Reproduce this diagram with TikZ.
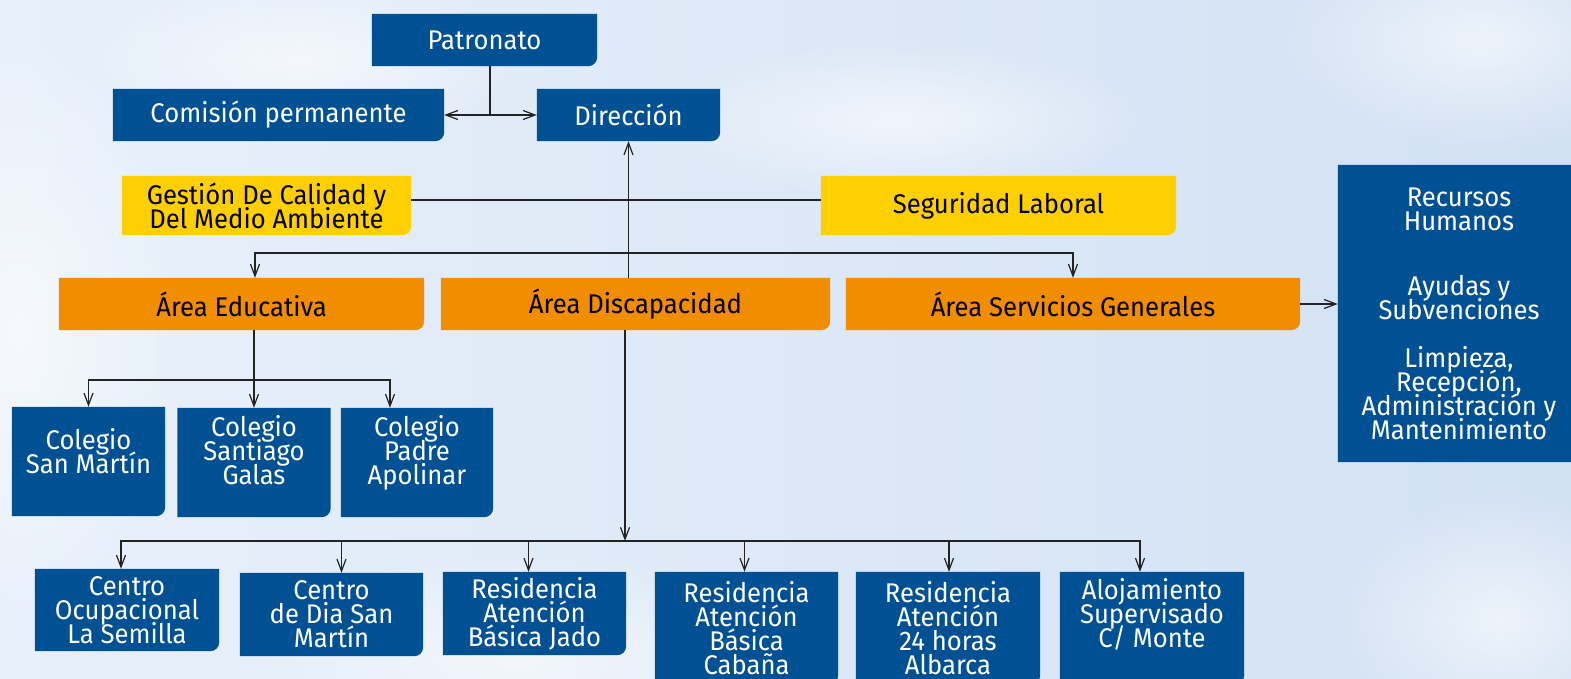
\documentclass[tikz,border=0pt]{standalone}
\usepackage{fontspec}
\setmainfont{Fira Sans}[FakeStretch=0.95]
\usetikzlibrary{arrows.meta,backgrounds,calc,fadings}

\definecolor{unitblue}{RGB}{0,81,148}
\definecolor{qualityyellow}{RGB}{255,207,0}
\definecolor{areaorange}{RGB}{240,141,0}
\definecolor{skyleft}{RGB}{232,240,250}
\definecolor{skyright}{RGB}{210,225,244}
\definecolor{linkgray}{RGB}{35,35,35}
\tikzfading[name=soft cloud, inner color=transparent!0, outer color=transparent!100]
\newcommand{\tightlines}{\lineskiplimit=-30pt\relax}

\begin{document}
\begin{tikzpicture}[x=1pt, y=-1pt, >={Straight Barb[length=12pt,width=9pt]},
    font=\fontsize{27}{24}\selectfont\tightlines]
    \tikzstyle{every node}=[inner sep=0pt, align=center]
    \tikzstyle{blue unit}=[text=white]
    \tikzstyle{light unit}=[text=black]
    \tikzstyle{link}=[draw=linkgray, line width=1.2pt]
    \useasboundingbox (0,0) rectangle (1571,679);

    % top
    \node [blue unit, minimum width=225, minimum height=52] (pat) at (484.5,40) {Patronato};
    \node [blue unit, minimum width=331, minimum height=52] (com) at (278.5,115) {Comisión permanente};
    \node [blue unit, minimum width=183, minimum height=52] (dir) at (628.5,115) {Dirección};
    \node [light unit, minimum width=289, minimum height=59] (gest) at (266.5,205.5) {Gestión De Calidad y\\Del Medio Ambiente};
    \node [light unit, minimum width=355, minimum height=59] (seg) at (998.5,205.5) {Seguridad Laboral};

    % areas
    \node [light unit, minimum width=365, minimum height=52] (edu) at (241.5,304) {Área Educativa};
    \node [light unit, minimum width=389, minimum height=52] (dis) at (635.5,304) {Área Discapacidad};
    \node [light unit, minimum width=454, minimum height=52] (srv) at (1073,304) {Área Servicios Generales};
    \node [blue unit, minimum width=242, minimum height=297] (rrhh) at (1459,313.5)
        {Recursos\\Humanos\\[41pt]Ayudas y\\Subvenciones\\[24pt]Limpieza,\\Recepción,\\Administración y\\Mantenimiento};

    % colegios
    \node [blue unit, minimum width=153, minimum height=109, text depth=22pt] (col1) at (88.5,461.5) {Colegio\\San Martín};
    \node [blue unit, minimum width=153, minimum height=109, text depth=25pt] (col2) at (254,462.5) {Colegio\\Santiago\\Galas};
    \node [blue unit, minimum width=152, minimum height=109, text depth=25pt] (col3) at (417,462.5) {Colegio\\Padre\\Apolinar};

    % centros
    \node [blue unit, minimum width=184, minimum height=82] (co) at (127,610) {Centro\\Ocupacional\\La Semilla};
    \node [blue unit, minimum width=183, minimum height=83] (cd) at (331.5,614.5) {Centro\\de Dia San\\Martín};
    \node [blue unit, minimum width=183, minimum height=83] (rj) at (534.5,613.5) {Residencia\\Atención\\Básica Jado};
    \node [blue unit, minimum width=183, minimum height=112] (rc) at (746.5,628) {Residencia\\Atención\\Básica\\Cabaña};
    \node [blue unit, minimum width=184, minimum height=112] (rh) at (948,628) {Residencia\\Atención\\24 horas\\Albarca};
    \node [blue unit, minimum width=184, minimum height=112, text depth=30pt] (am) at (1152,628) {Alojamiento\\Supervisado\\C/ Monte};

    \coordinate (areabus) at (628.5,253);
    \coordinate (edubus) at (254,380);
    \coordinate (disbus) at (625,541);

    \draw [link,->] ([xshift=5.5]pat.south) |- (com.east);
    \draw [link,->] ([xshift=5.5]pat.south) |- (dir.west);
    \draw [link,->] (dir.south |- dis.north) -- (dir.south);
    \draw [link] ([yshift=5.5]gest.east) -- ([yshift=5.5]gest.east -| seg.west);
    \foreach \n/\dx in {edu/13.5, srv/0}
        \draw [link,->] (areabus) -| ([xshift=\dx]\n.north);
    \draw [link] ([xshift=12.5]edu.south) -- (edubus);
    \foreach \n/\dx in {col1/0, col2/0, col3/-27}
        \draw [link,->] (edubus) -| ([xshift=\dx]\n.north);
    \draw [link,->] ([xshift=-10.5]dis.south) -- (disbus);
    \foreach \n/\dx in {co/-6, cd/10, rj/-6, rc/-2, rh/1, am/-12}
        \draw [link,->] (disbus) -| ([xshift=\dx]\n.north);
    \draw [link,->] (srv.east) -- (srv.east -| rrhh.west);

    \begin{scope}[on background layer]
        \shade [left color=skyleft, right color=skyright] (0,0) rectangle (1571,679);
        \foreach \cx/\cy/\rx/\ry in {20/330/170/300, 520/660/300/110, 1480/40/200/110, 1500/620/170/130, 300/60/220/90, 900/120/250/80}
            \fill [white, opacity=0.6, path fading=soft cloud] (\cx,\cy) ellipse ({\rx} and {\ry});
        \foreach \n/\c in {pat/unitblue, com/unitblue, dir/unitblue, gest/qualityyellow, seg/qualityyellow,
                edu/areaorange, dis/areaorange, srv/areaorange, rrhh/unitblue, col1/unitblue, col2/unitblue,
                col3/unitblue, co/unitblue, cd/unitblue, rj/unitblue, rc/unitblue, rh/unitblue, am/unitblue}
            \fill [\c] (\n.south west) -- (\n.north west) -- (\n.north east) -- ($(\n.north east)!0.5!(\n.south east)$)
                [rounded corners=9pt] -- (\n.south east) -- ($(\n.south east)!0.5!(\n.south west)$) [sharp corners] -- cycle;
    \end{scope}
\end{tikzpicture}
\end{document}
